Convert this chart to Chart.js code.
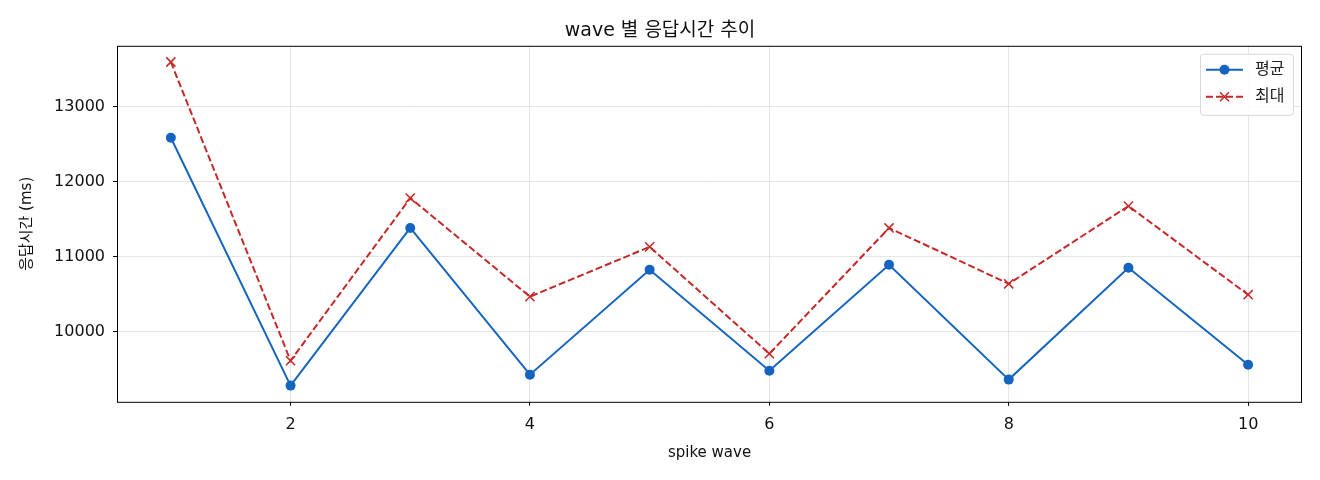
<!DOCTYPE html>
<html>
<head>
<meta charset="utf-8">
<script src="https://cdn.jsdelivr.net/npm/chart.js@4"></script>
<style>
  html, body { margin: 0; padding: 0; background: #fff; }
  #wrap { width: 1320px; height: 480px; }
</style>
</head>
<body>
<div id="wrap"><canvas id="myChart" width="1320" height="480"></canvas></div>
<script>
// data
var waves = [1, 2, 3, 4, 5, 6, 7, 8, 9, 10]
var avgMs = [12588, 9283, 11385, 9429, 10827, 9482, 10894, 9363, 10854, 9562]
var maxMs = [13598, 9615, 11784, 10469, 11133, 9708, 11385, 10641, 11677, 10495]
var xTicks = [2, 4, 6, 8, 10]
var yTicks = [10000, 11000, 12000, 13000]
var seriesNames = ['평균', '최대']

var FONT = "'DejaVu Sans', 'Noto Sans CJK KR', sans-serif"
var BLUE = '#1565C0'
var RED = '#C62828'

function toPoints(ys) {
    var pts = []
    for (var i = 0; i < waves.length; i++) {
        pts.push({ x: waves[i], y: ys[i] })
    }
    return pts
}

// box around the plot + legend in the top right corner
var framePlugin = {
    id: 'frame',
    afterDraw: function (chart) {
        var ctx = chart.ctx
        var a = chart.chartArea
        ctx.save()
        ctx.strokeStyle = '#000'
        ctx.lineWidth = 1
        ctx.strokeRect(a.left + 0.5, a.top + 0.5, a.right - a.left - 1, a.bottom - a.top)

        // legend
        var bx = a.right - 102, by = a.top + 8, bw = 93, bh = 61
        ctx.fillStyle = 'rgba(255,255,255,0.85)'
        ctx.strokeStyle = '#d8d8d8'
        ctx.lineWidth = 1
        ctx.beginPath()
        ctx.roundRect(bx + 0.5, by + 0.5, bw, bh, 3)
        ctx.fill()
        ctx.stroke()

        var rows = [
            { name: seriesNames[0], color: BLUE, dash: [], marker: 'circle' },
            { name: seriesNames[1], color: RED, dash: [7, 3], marker: 'x' }
        ]
        for (var i = 0; i < rows.length; i++) {
            var r = rows[i]
            var cy = by + 16 + i * 27
            var x0 = bx + 6, x1 = bx + 43, cx = (x0 + x1) / 2
            ctx.strokeStyle = r.color
            ctx.lineWidth = 2
            ctx.setLineDash(r.dash)
            ctx.beginPath()
            ctx.moveTo(x0, cy)
            ctx.lineTo(x1, cy)
            ctx.stroke()
            ctx.setLineDash([])
            if (r.marker == 'circle') {
                ctx.fillStyle = r.color
                ctx.beginPath()
                ctx.arc(cx, cy, 5, 0, Math.PI * 2)
                ctx.fill()
            } else {
                ctx.lineWidth = 1.5
                ctx.beginPath()
                ctx.moveTo(cx - 4.5, cy - 4.5); ctx.lineTo(cx + 4.5, cy + 4.5)
                ctx.moveTo(cx - 4.5, cy + 4.5); ctx.lineTo(cx + 4.5, cy - 4.5)
                ctx.stroke()
            }
            ctx.fillStyle = '#222'
            ctx.font = '16px ' + FONT
            ctx.textAlign = 'left'
            ctx.textBaseline = 'middle'
            ctx.fillText(r.name, bx + 55, cy)
        }
        ctx.restore()
    }
}

function plain(v) { return String(v) }

function buildGraph() {
    var ctx = document.getElementById('myChart').getContext('2d')
    var chart = new Chart(ctx, {
        type: 'line',
        data: {
            datasets: [{
                label: seriesNames[0],
                data: toPoints(avgMs),
                borderColor: BLUE,
                backgroundColor: BLUE,
                borderWidth: 2,
                pointStyle: 'circle',
                pointRadius: 5,
                pointHoverRadius: 5,
                pointBorderWidth: 0,
                tension: 0
            }, {
                label: seriesNames[1],
                data: toPoints(maxMs),
                borderColor: RED,
                backgroundColor: RED,
                borderWidth: 2,
                borderDash: [7, 3],
                pointStyle: 'crossRot',
                pointRadius: 6.5,
                pointHoverRadius: 6.5,
                pointBorderWidth: 1.5,
                tension: 0
            }]
        },
        options: {
            responsive: false,
            animation: false,
            layout: { padding: { left: 18, right: 18, top: 0, bottom: 18 } },
            plugins: {
                legend: { display: false },
                tooltip: { enabled: false },
                title: {
                    display: true,
                    text: 'wave 별 응답시간 추이',
                    color: '#111',
                    font: { family: FONT, size: 19, weight: 'normal' },
                    padding: { top: 20, bottom: 3 }
                }
            },
            scales: {
                x: {
                    type: 'linear',
                    min: 0.55,
                    max: 10.45,
                    afterBuildTicks: function (s) { s.ticks = xTicks.map(function (v) { return { value: v } }) },
                    grid: { color: 'rgba(0,0,0,0.1)', tickColor: '#000', tickLength: 4, drawTicks: true },
                    border: { display: false },
                    ticks: { color: '#111', font: { family: FONT, size: 16 }, padding: 9, callback: plain },
                    title: { display: true, text: 'spike wave', color: '#111', font: { family: FONT, size: 15 }, padding: { top: 1, bottom: 0 } }
                },
                y: {
                    min: 9067,
                    max: 13814,
                    afterBuildTicks: function (s) { s.ticks = yTicks.map(function (v) { return { value: v } }) },
                    afterFit: function (s) { s.width = 99 },
                    grid: { color: 'rgba(0,0,0,0.1)', tickColor: '#000', tickLength: 4, drawTicks: true },
                    border: { display: false },
                    ticks: { color: '#111', font: { family: FONT, size: 16 }, padding: 8, callback: plain },
                    title: { display: true, text: '응답시간 (ms)', color: '#111', font: { family: FONT, size: 15 }, padding: { top: 0, bottom: 4 } }
                }
            }
        },
        plugins: [framePlugin]
    })
    return chart
}

buildGraph()
</script>
</body>
</html>
